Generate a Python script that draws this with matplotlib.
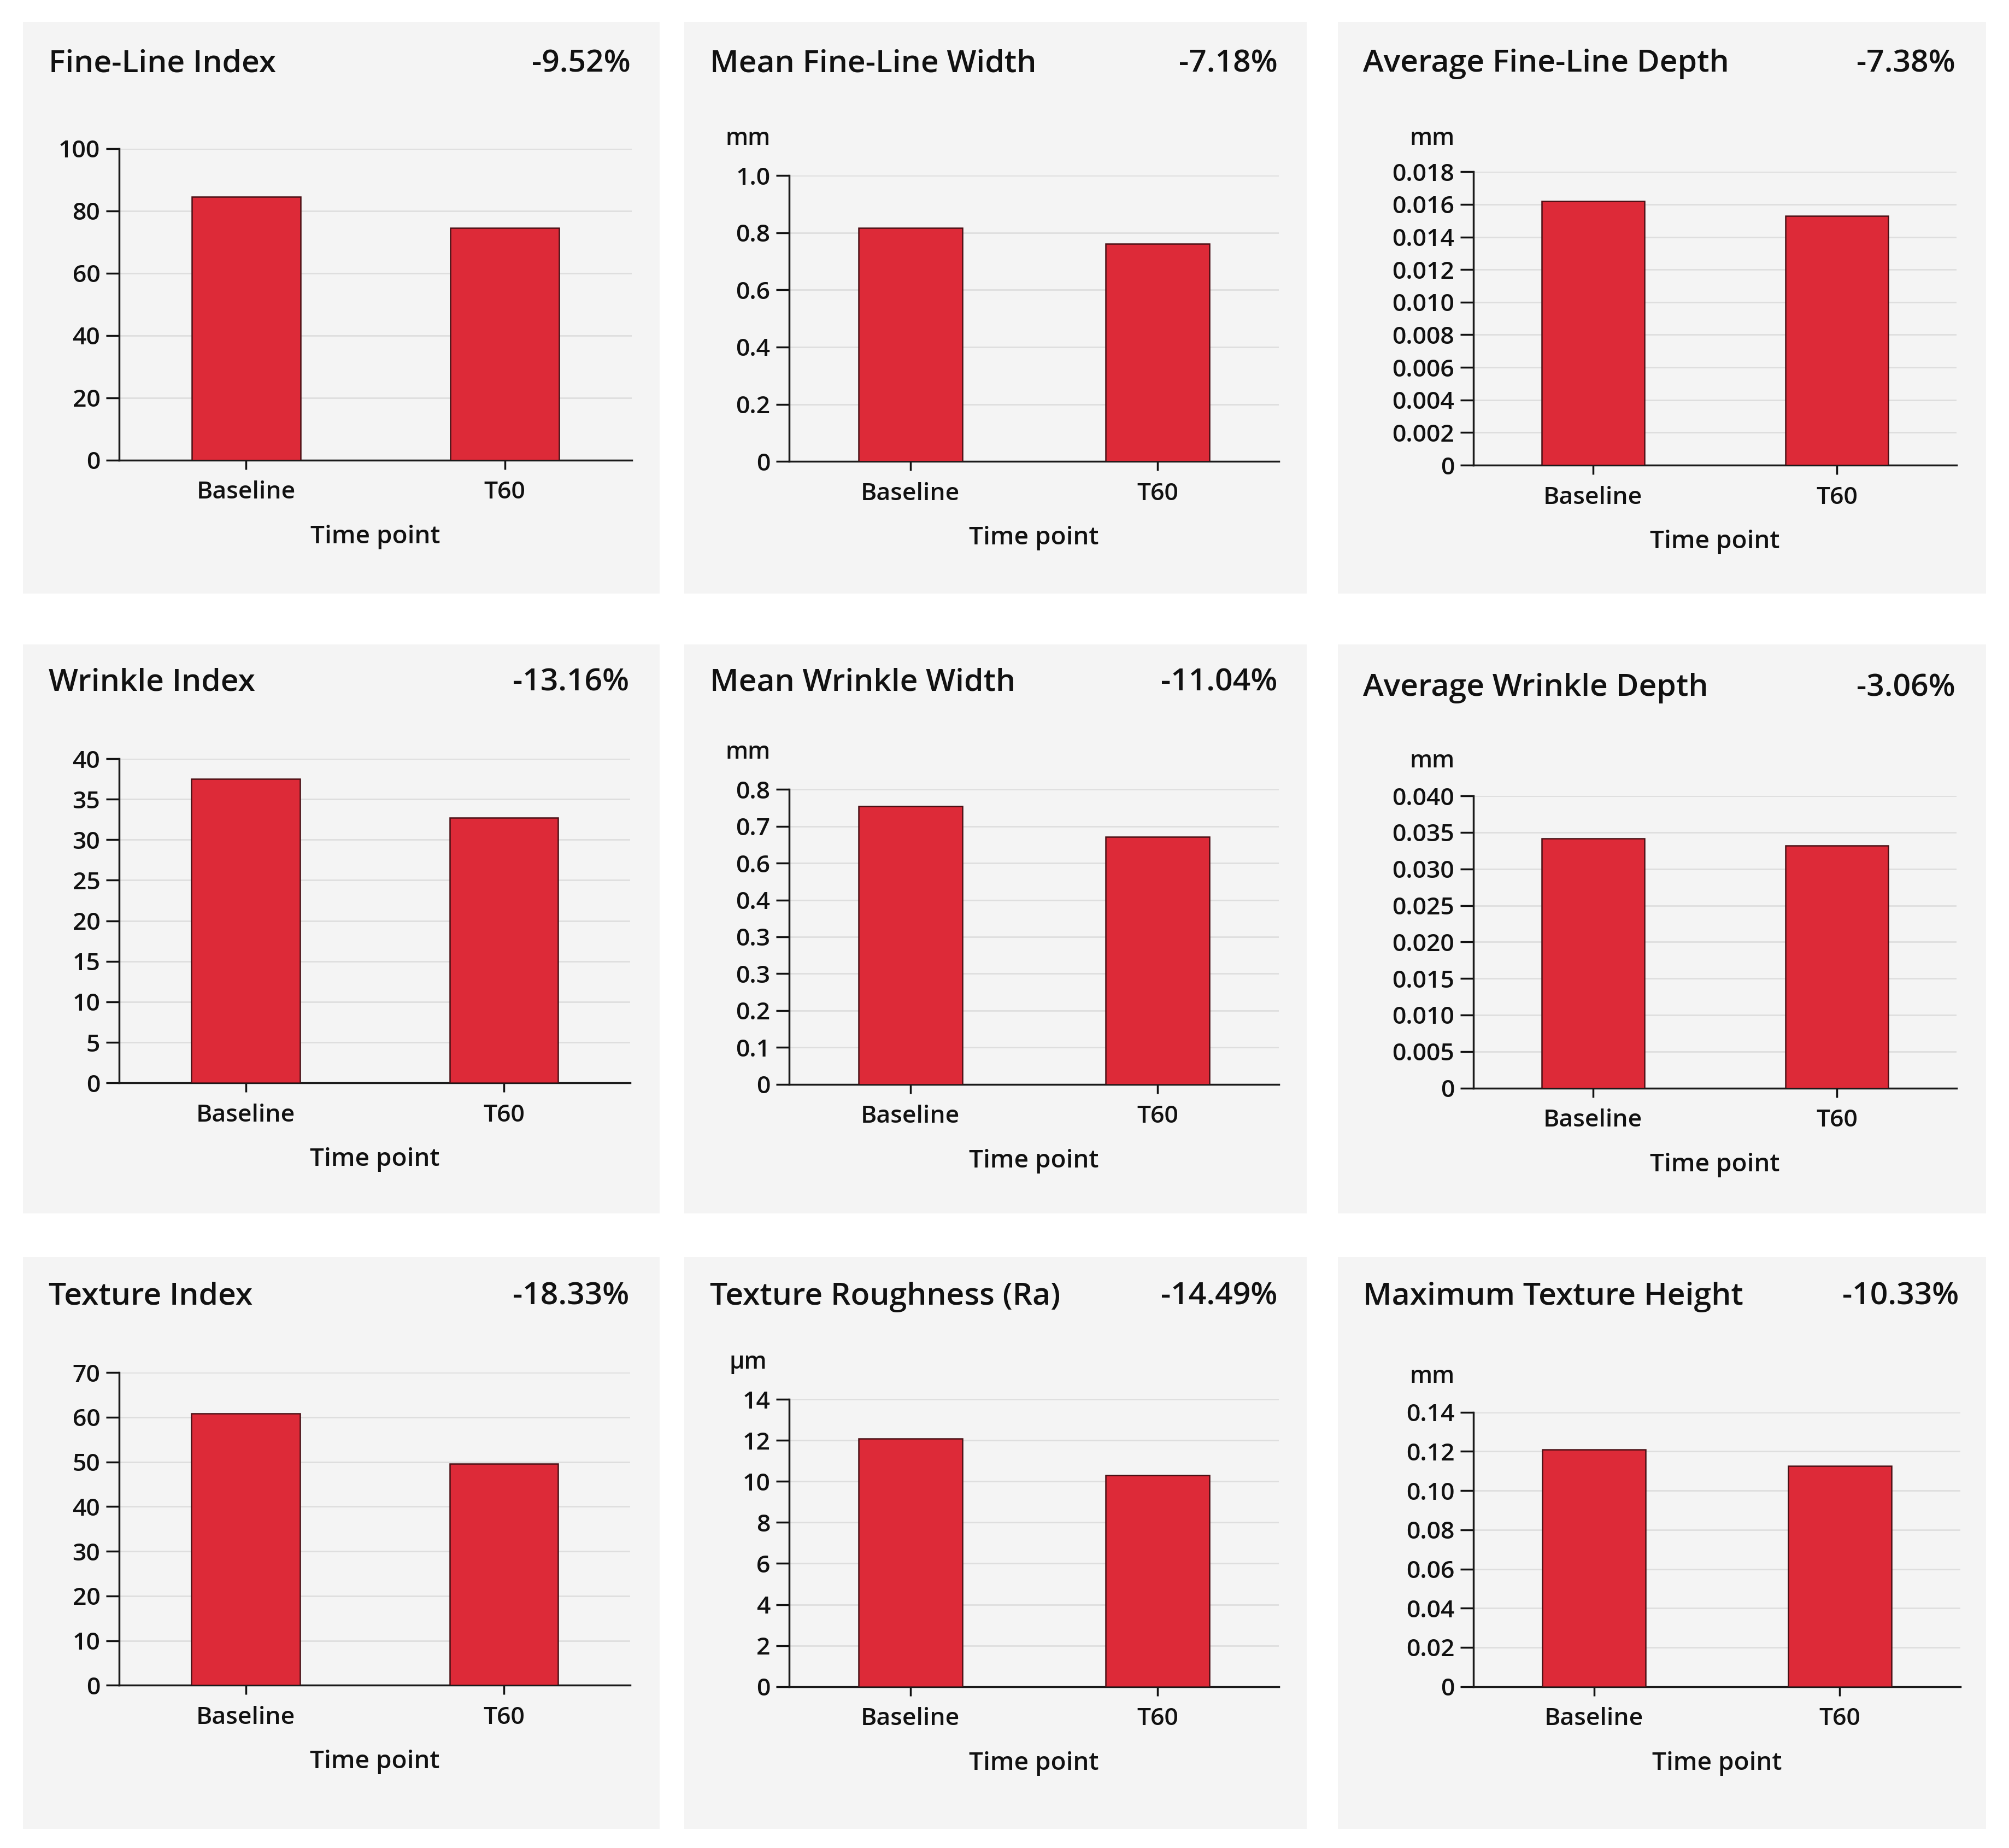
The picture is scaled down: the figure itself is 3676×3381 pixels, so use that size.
import numpy as np
import matplotlib.pyplot as plt
from matplotlib.patches import Rectangle

plt.rcParams['font.family'] = ['Open Sans', 'DejaVu Sans']

# Data
timepoints = ["Baseline", "T60"]
titles = ["Fine-Line Index", "Mean Fine-Line Width", "Average Fine-Line Depth",
          "Wrinkle Index", "Mean Wrinkle Width", "Average Wrinkle Depth",
          "Texture Index", "Texture Roughness (Ra)", "Maximum Texture Height"]
changes = ["-9.52%", "-7.18%", "-7.38%",
           "-13.16%", "-11.04%", "-3.06%",
           "-18.33%", "-14.49%", "-10.33%"]
units = ["", "mm", "mm", "", "mm", "mm", "", "µm", "mm"]
baseline = [84.5, 0.816, 0.0162, 37.5, 0.755, 0.0342, 60.8, 12.1, 0.121]
t60 = [74.5, 0.762, 0.0153, 32.7, 0.671, 0.0332, 49.6, 10.3, 0.1125]
ytick_values = [
    [0, 20, 40, 60, 80, 100],
    [0, 0.2, 0.4, 0.6, 0.8, 1.0],
    [0, 0.002, 0.004, 0.006, 0.008, 0.010, 0.012, 0.014, 0.016, 0.018],
    [0, 5, 10, 15, 20, 25, 30, 35, 40],
    [0, 0.1, 0.2, 0.3, 0.4, 0.5, 0.6, 0.7, 0.8],
    [0, 0.005, 0.010, 0.015, 0.020, 0.025, 0.030, 0.035, 0.040],
    [0, 10, 20, 30, 40, 50, 60, 70],
    [0, 2, 4, 6, 8, 10, 12, 14],
    [0, 0.02, 0.04, 0.06, 0.08, 0.10, 0.12, 0.14],
]
ytick_labels = [
    ["0", "20", "40", "60", "80", "100"],
    ["0", "0.2", "0.4", "0.6", "0.8", "1.0"],
    ["0", "0.002", "0.004", "0.006", "0.008", "0.010", "0.012", "0.014", "0.016", "0.018"],
    ["0", "5", "10", "15", "20", "25", "30", "35", "40"],
    ["0", "0.1", "0.2", "0.3", "0.3", "0.4", "0.6", "0.7", "0.8"],
    ["0", "0.005", "0.010", "0.015", "0.020", "0.025", "0.030", "0.035", "0.040"],
    ["0", "10", "20", "30", "40", "50", "60", "70"],
    ["0", "2", "4", "6", "8", "10", "12", "14"],
    ["0", "0.02", "0.04", "0.06", "0.08", "0.10", "0.12", "0.14"],
]

# layout (in a 1568 x 1442 reference grid)
W, H = 1568.0, 1442.0
panel_x = [(18, 515), (534, 1020), (1044, 1550)]
panel_y = [(17, 463), (503, 947), (981, 1427)]
axes_box = [  # left, right, top, bottom
    (93, 493, 116, 359), (616, 998, 137, 360), (1150, 1527, 134, 363),
    (93, 492, 592, 845), (616, 998, 616, 846), (1150, 1527, 621, 849),
    (93, 492, 1071, 1315), (616, 998, 1092, 1316), (1150, 1530, 1102, 1316),
]
title_y = [50, 50, 50, 533, 533, 537, 1012, 1012, 1012]
unit_y = [0, 108, 108, 0, 587, 594, 0, 1063, 1074]

bar_color = '#dd2a38'
edge_color = '#4a1015'
panel_bg = '#f4f4f4'
text_color = '#111111'

fig = plt.figure(figsize=(36.76, 33.81), dpi=100)
fig.patch.set_facecolor('white')

for i in range(9):
    r, c = divmod(i, 3)
    px0, px1 = panel_x[c]
    py0, py1 = panel_y[r]
    fig.patches.append(Rectangle((px0 / W, 1 - py1 / H), (px1 - px0) / W, (py1 - py0) / H,
                                 transform=fig.transFigure, facecolor=panel_bg,
                                 edgecolor='none', zorder=0))

    l, rt, tp, bt = axes_box[i]
    ax = fig.add_axes([l / W, 1 - bt / H, (rt - l) / W, (bt - tp) / H])
    ax.set_zorder(2)
    ax.set_facecolor(panel_bg)
    x = np.arange(len(timepoints))
    ax.bar(x, [baseline[i], t60[i]], width=0.42, color=bar_color,
           edgecolor=edge_color, linewidth=1.8, zorder=3)
    ax.set_xlim(-0.49, 1.49)
    ax.set_ylim(0, ytick_values[i][-1])
    ax.set_yticks(ytick_values[i])
    ax.set_yticklabels(ytick_labels[i], fontweight='semibold')
    ax.set_xticks(x)
    ax.set_xticklabels(timepoints, fontweight='semibold')
    ax.set_xlabel("Time point", fontsize=33, fontweight='semibold',
                  color=text_color, labelpad=27)
    ax.grid(axis='y', color='#dedede', linewidth=2, zorder=0)
    ax.set_axisbelow(True)
    for s in ['top', 'right']:
        ax.spines[s].set_visible(False)
    for s in ['left', 'bottom']:
        ax.spines[s].set_linewidth(2.5)
        ax.spines[s].set_color('#1a1a1a')
    ax.tick_params(axis='y', labelsize=32, length=17, width=2.5, pad=8, colors=text_color)
    ax.tick_params(axis='x', labelsize=32, length=12, width=2.5, pad=15, colors=text_color)

    fig.text((px0 + 20) / W, 1 - title_y[i] / H, titles[i], fontsize=41,
             fontweight='semibold', color=text_color, ha='left', va='center')
    fig.text((rt - 1) / W, 1 - title_y[i] / H, changes[i], fontsize=41,
             fontweight='semibold', color=text_color, ha='right', va='center')
    if units[i]:
        fig.text((l - 32) / W, 1 - unit_y[i] / H, units[i], fontsize=31,
                 fontweight='semibold', color=text_color, ha='center', va='center')

fig.savefig('out.png', dpi=100, facecolor='white')
